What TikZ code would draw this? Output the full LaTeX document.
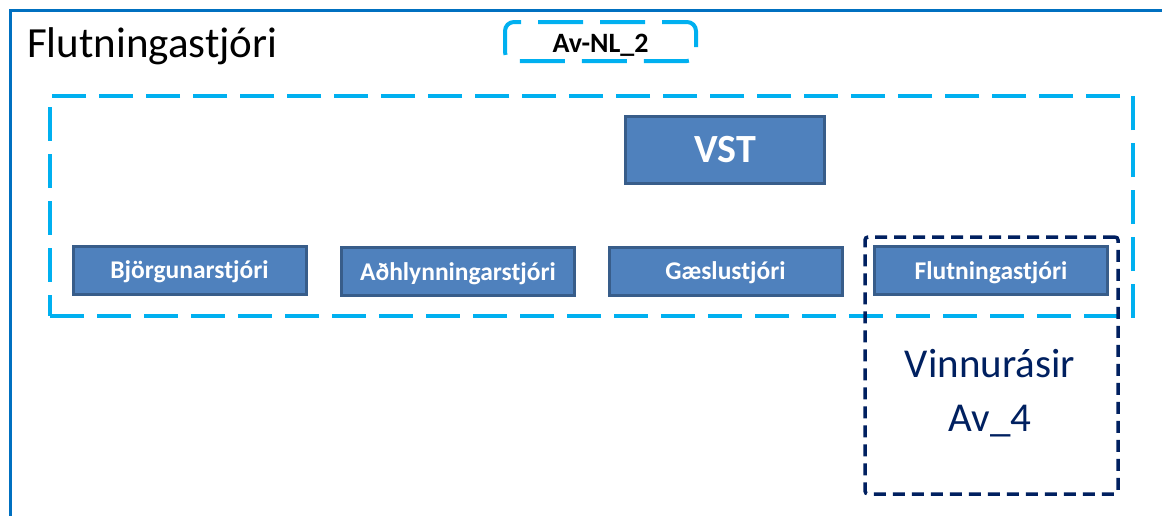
\documentclass[tikz,border=0pt]{standalone}
\usepackage{fontspec}
\setmainfont{Carlito}
\definecolor{frameblue}{HTML}{0070C0}
\definecolor{cyanline}{HTML}{00B0F0}
\definecolor{navyline}{HTML}{002060}
\definecolor{boxfill}{HTML}{4F81BD}
\definecolor{boxborder}{HTML}{385D8A}
\tikzset{
  rolebox/.style={draw=boxborder, fill=boxfill, line width=3pt, inner sep=0pt,
    minimum width=233pt, minimum height=48pt, text=white, text height=19pt, text depth=2pt,
    font=\fontsize{25.5}{30}\selectfont\bfseries},
  cyandash/.style={draw=cyanline, line width=4pt, dash pattern=on 34pt off 13pt},
  navydash/.style={draw=navyline, line width=3.5pt, dash pattern=on 12pt off 7pt, rounded corners=3pt},
}
\begin{document}
\begin{tikzpicture}[x=1pt,y=-1pt]
\useasboundingbox (0,0) rectangle (1162,515);
\fill[white] (0,0) rectangle (1162,515);
\begin{scope}
\clip (0,0) rectangle (1162,515);
\draw[frameblue, line width=3pt] (10.5,10.5) rectangle (1250,600);
\end{scope}
\node[anchor=base west, inner sep=0pt, font=\fontsize{43}{50}\selectfont] (title) at (27,57) {Flutningastjóri};
\node[draw=cyanline, line width=4pt, dash pattern=on 45pt off 17pt, dash phase=20pt, rounded corners=9pt,
  minimum width=191pt, minimum height=39pt, inner sep=0pt, text height=23pt, text depth=2pt,
  font=\fontsize{28}{32}\selectfont\bfseries]
  (avnl) at (600.5,41.5) {Av-NL\_2};
\node[cyandash, minimum width=1083pt, minimum height=220pt, inner sep=0pt] (group) at (591.5,206) {};
\node[draw=boxborder, fill=boxfill, line width=3pt, inner sep=0pt, minimum width=199pt, minimum height=67pt,
  text=white, font=\fontsize{40}{48}\selectfont\bfseries] (vst) at (725,149.5) {VST};
\node[rolebox] (bjorg) at (189.5,270) {Björgunarstjóri};
\node[rolebox] (adhl) at (458,271.5) {Aðhlynningarstjóri};
\node[rolebox] (gaesl) at (725.5,271) {Gæslustjóri};
\node[navydash, minimum width=253pt, minimum height=257pt, inner sep=0pt] (vinnu) at (991.5,365.5) {};
\node[rolebox] (flutn) at (991,270.5) {Flutningastjóri};
\node[align=center, text=navyline, inner sep=0pt, font=\fontsize{41}{54}\selectfont] (vtext) at (990,393) {Vinnurásir\\Av\_4};
\end{tikzpicture}
\end{document}
